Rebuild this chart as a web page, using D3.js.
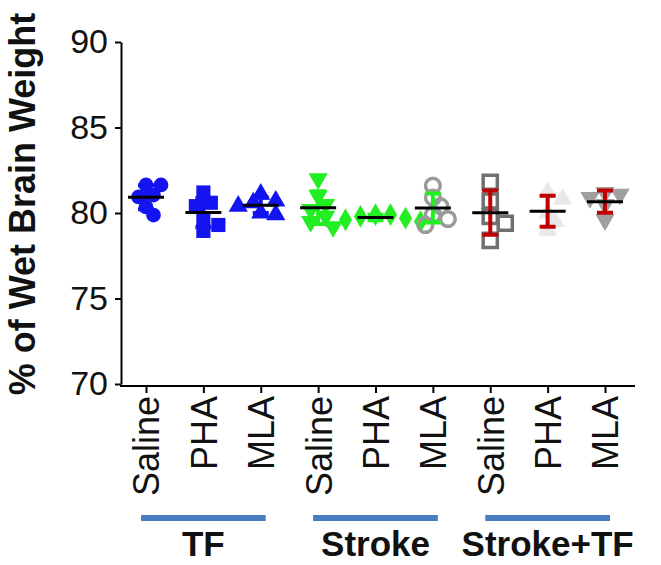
<!DOCTYPE html>
<html>
<head>
<meta charset="utf-8">
<script src="https://cdn.jsdelivr.net/npm/d3@7"></script>
<style>
  body { margin: 0; background: #fff; }
  svg text { font-family: "Liberation Sans", Arial, sans-serif; }
</style>
</head>
<body>
<div id="chart"></div>
<script>
// Gruppen und Behandlungen
const treatments = ["Saline", "PHA", "MLA"];
const groups = ["TF", "Stroke", "Stroke+TF"];
const yTicks = [70, 75, 80, 85, 90];

// Werte pro Spalte (% Feuchtgewicht), aus der Abbildung geschätzt
const tfSaline     = [81.64, 81.64, 81.05, 80.94, 80.35, 79.88];
const tfPha        = [81.2, 80.6, 80.4, 79.7, 79.3, 78.95];
const tfMla        = [81.1, 80.7, 80.6, 80.4, 79.9, 80.0];
const strokeSaline = [82.0, 81.0, 80.5, 80.2, 79.8, 79.5, 79.2];
const strokePha    = [79.9, 79.9, 79.8, 79.7, 79.6, 79.5];
const strokeMla    = [81.6, 80.9, 80.4, 79.9, 79.65, 79.3];
const bothSaline   = [81.8, 80.7, 79.8, 79.4, 78.4];
const bothPha      = [81.2, 80.8, 80.0, 79.5, 79.0];
const bothMla      = [81.2, 81.1, 80.9, 80.5, 79.6];

const columnValues = [tfSaline, tfPha, tfMla, strokeSaline, strokePha, strokeMla, bothSaline, bothPha, bothMla];

// Darstellung je Spalte
const styles = [
  { shape: "circle",  fill: "#1414f0", stroke: "none", bar: "#1414f0" },
  { shape: "square",  fill: "#1414f0", stroke: "none", bar: "#1414f0" },
  { shape: "triUp",   fill: "#1414f0", stroke: "none", bar: "#1414f0" },
  { shape: "triDown", fill: "#22ee22", stroke: "none", bar: "#22ee22" },
  { shape: "diamond", fill: "#22ee22", stroke: "none", bar: "#22ee22" },
  { shape: "circle",  fill: "none", stroke: "#9a9a9a", bar: "#22ee22" },
  { shape: "square",  fill: "none", stroke: "#707070", bar: "#c00000" },
  { shape: "triUp",   fill: "#e8e8e8", stroke: "none", bar: "#c00000" },
  { shape: "triDown", fill: "#a0a0a0", stroke: "none", bar: "#c00000" }
];

const width = 661;
const height = 565;
const margin = { left: 121, top: 42, right: 26, bottom: 181 };
const x0 = margin.left, x1 = width - margin.right;
const y0 = height - margin.bottom, y1 = margin.top;

const columns = [];
groups.forEach(g => treatments.forEach(t => columns.push(g + "|" + t)));

const svg = d3.select("#chart").append("svg")
    .attr("width", width)
    .attr("height", height);

const x = d3.scalePoint()
    .domain(columns)
    .range([x0 + 25, x1 - 30]);

const y = d3.scaleLinear()
    .domain([70, 90])
    .range([y0, y1]);

// Y-Achse
const yAxis = svg.append("g")
    .attr("transform", `translate(${x0},0)`)
    .call(d3.axisLeft(y).tickValues(yTicks).tickSize(6).tickPadding(7).tickSizeOuter(0));
yAxis.select(".domain").attr("stroke-width", 2);
yAxis.selectAll(".tick line").attr("stroke-width", 2);
yAxis.selectAll("text").style("font-size", "34px").attr("fill", "#111");

// X-Achse
const xAxis = svg.append("g")
    .attr("transform", `translate(0,${y0 + 2})`)
    .call(d3.axisBottom(x).tickSize(7).tickSizeOuter(0).tickFormat(d => d.split("|")[1]));
xAxis.select(".domain").attr("d", `M${x0 - 1},0H${x1}`).attr("stroke-width", 2);
xAxis.selectAll(".tick line").attr("stroke-width", 2);
xAxis.selectAll("text")
    .style("font-size", "36px")
    .attr("fill", "#111")
    .attr("text-anchor", "end")
    .attr("dy", "0.36em")
    .attr("transform", "translate(0,10) rotate(-90)")
    .attr("x", 0).attr("y", 0);

// Titel der Y-Achse
svg.append("text")
    .attr("transform", `translate(35,${(y0 + y1) / 2 - 9}) rotate(-90)`)
    .attr("text-anchor", "middle")
    .style("font-size", "36px")
    .style("font-weight", "bold")
    .attr("fill", "#111")
    .text("% of Wet Brain Weight");

// Symbol-Generator
const symbolFor = {
  circle: d3.symbol().type(d3.symbolCircle).size(170),
  square: d3.symbol().type(d3.symbolSquare).size(200),
  triUp: d3.symbol().type(d3.symbolTriangle).size(160),
  triDown: d3.symbol().type(d3.symbolTriangle).size(160),
  diamond: d3.symbol().type(d3.symbolDiamond).size(150)
};

// einfache Beeswarm-Anordnung, Überlappung teilweise erlaubt
function swarm(values, size) {
  const placed = [];
  values.map((v, i) => ({ v, i })).sort((a, b) => b.v - a.v).forEach(p => {
    const py = y(p.v);
    let off = 0;
    for (let k = 0; k < 12; k++) {
      const cand = k === 0 ? 0 : (k % 2 ? 1 : -1) * Math.ceil(k / 2) * size * 0.5;
      const clash = placed.some(q => Math.hypot(q.dx - cand, q.py - py) < size * 0.7);
      if (!clash) { off = cand; break; }
    }
    placed.push({ dx: off, py, v: p.v });
  });
  return placed;
}

columns.forEach((col, ci) => {
  const vals = columnValues[ci];
  const st = styles[ci];
  const cx = x(col);
  const mean = d3.mean(vals);
  const sd = d3.deviation(vals);
  const g = svg.append("g");

  // Punkte
  swarm(vals, 15).forEach(p => {
    g.append("path")
      .attr("d", symbolFor[st.shape]())
      .attr("transform", `translate(${cx + p.dx},${p.py})` + (st.shape === "triDown" ? " rotate(180)" : ""))
      .attr("fill", st.fill)
      .attr("stroke", st.stroke)
      .attr("stroke-width", st.stroke === "none" ? 0 : 3.5);
  });

  // Fehlerbalken (SD)
  const cap = 8;
  g.append("path")
    .attr("d", `M${cx},${y(mean + sd)}V${y(mean - sd)}M${cx - cap},${y(mean + sd)}H${cx + cap}M${cx - cap},${y(mean - sd)}H${cx + cap}`)
    .attr("fill", "none")
    .attr("stroke", st.bar)
    .attr("stroke-width", 4);

  // Mittelwert
  g.append("line")
    .attr("x1", cx - 18).attr("x2", cx + 18)
    .attr("y1", y(mean)).attr("y2", y(mean))
    .attr("stroke", "#000")
    .attr("stroke-width", 3);
});

// Gruppenbalken und -beschriftungen
groups.forEach((grp, gi) => {
  const first = x(grp + "|" + treatments[0]);
  const last = x(grp + "|" + treatments[treatments.length - 1]);
  const mid = (first + last) / 2;
  svg.append("line")
    .attr("x1", first - 5).attr("x2", last + 5)
    .attr("y1", 518).attr("y2", 518)
    .attr("stroke", "#4a7cc0")
    .attr("stroke-width", 6);
  svg.append("text")
    .attr("x", mid)
    .attr("y", 556)
    .attr("text-anchor", "middle")
    .style("font-size", "35px")
    .style("font-weight", "bold")
    .attr("fill", "#111")
    .text(grp);
});
</script>
</body>
</html>
